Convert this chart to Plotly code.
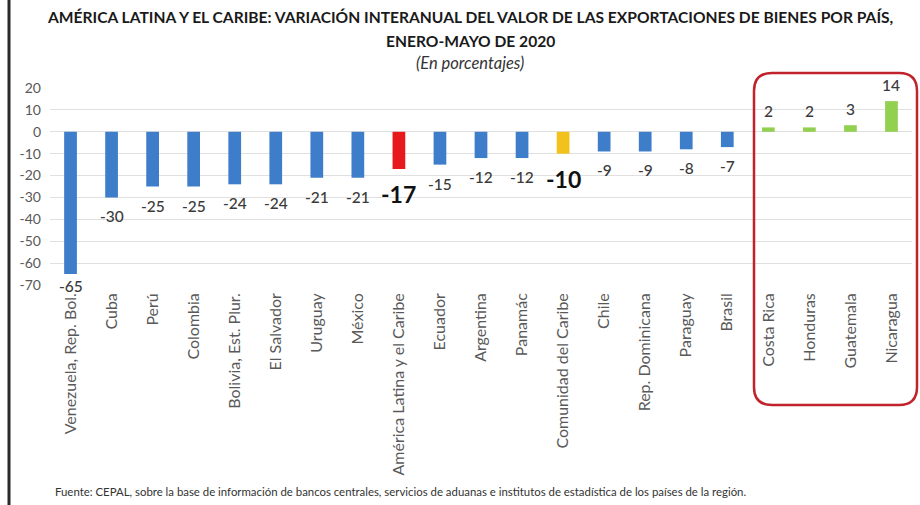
import plotly.graph_objects as go

categories = ["Venezuela, Rep. Bol.", "Cuba", "Perú", "Colombia", "Bolivia, Est. Plur.",
              "El Salvador", "Uruguay", "México", "América Latina y el Caribe", "Ecuador",
              "Argentina", "Panamác", "Comunidad del Caribe", "Chile", "Rep. Dominicana",
              "Paraguay", "Brasil", "Costa Rica", "Honduras", "Guatemala", "Nicaragua"]
values = [-65, -30, -25, -25, -24, -24, -21, -21, -17, -15, -12, -12, -10, -9, -9, -8, -7,
          2, 2, 3, 14]
groups = ["pais"] * 8 + ["region", "pais", "pais", "pais", "caribe"] + ["pais"] * 4 + ["positivo"] * 4
y_ticks = [20, 10, 0, -10, -20, -30, -40, -50, -60, -70]

COLORS = {"pais": "#3D7DCA", "region": "#E8191C", "caribe": "#F2C11B", "positivo": "#92D050"}
FONT = "Lato, 'Open Sans', sans-serif"

W, H = 920, 505
L, R, T, B = 50, 8, 88, 220
pw, ph = W - L - R, H - T - B


def px_x(x):
    return (x - L) / pw


def px_y(y):
    return (H - B - y) / ph


fig = go.Figure()
fig.add_trace(go.Bar(
    x=categories, y=values,
    marker=dict(color=[COLORS[g] for g in groups], line=dict(width=0)),
    width=0.31, hoverinfo="x+y",
))

annotations = []
for c, v, g in zip(categories, values, groups):
    big = g in ("region", "caribe")
    if v < 0:
        shift = -25 if big else (-12 if v <= -60 else -19)
    else:
        shift = 16
    annotations.append(dict(
        x=c, y=v, xref="x", yref="y", text=str(v), showarrow=False,
        yshift=shift, yanchor="middle",
        font=dict(family=FONT, size=23 if big else 15.5,
                  color="#111111" if big else "#3a3a3a",
                  weight="bold" if big else 500),
    ))

annotations += [
    dict(xref="paper", yref="paper", x=px_x(470), y=px_y(17),
         text="<b>AMÉRICA LATINA Y EL CARIBE: VARIACIÓN INTERANUAL DEL VALOR DE LAS EXPORTACIONES DE BIENES POR PAÍS,</b>",
         showarrow=False, xanchor="center", yanchor="middle",
         font=dict(family=FONT, size=15.6, color="#1a1a1a")),
    dict(xref="paper", yref="paper", x=px_x(470), y=px_y(41),
         text="<b>ENERO-MAYO DE 2020</b>", showarrow=False, xanchor="center", yanchor="middle",
         font=dict(family=FONT, size=15.6, color="#1a1a1a")),
    dict(xref="paper", yref="paper", x=px_x(470), y=px_y(63),
         text="<i>(En porcentajes)</i>", showarrow=False, xanchor="center", yanchor="middle",
         font=dict(family=FONT, size=16.5, color="#333333")),
    dict(xref="paper", yref="paper", x=px_x(53), y=px_y(491),
         text="Fuente: CEPAL, sobre la base de información de bancos centrales, servicios de aduanas e institutos de estadística de los países de la región.",
         showarrow=False, xanchor="left", yanchor="middle",
         font=dict(family=FONT, size=11.4, color="#333333")),
]

# rounded red box around positive group
x0, x1 = px_x(754), px_x(917)
y0, y1 = px_y(405), px_y(73)
rx, ry = 18 / pw, 18 / ph
path = (f"M {x0+rx},{y1} L {x1-rx},{y1} Q {x1},{y1} {x1},{y1-ry} "
        f"L {x1},{y0+ry} Q {x1},{y0} {x1-rx},{y0} L {x0+rx},{y0} "
        f"Q {x0},{y0} {x0},{y0+ry} L {x0},{y1-ry} Q {x0},{y1} {x0+rx},{y1} Z")

shapes = [
    dict(type="path", xref="paper", yref="paper", path=path,
         line=dict(color="#C0232B", width=2.5), fillcolor="rgba(0,0,0,0)"),
    dict(type="line", xref="paper", yref="paper", x0=px_x(9), x1=px_x(9),
         y0=px_y(H + 5), y1=px_y(-5), line=dict(color="#2a2a2a", width=3)),
]

fig.update_layout(
    width=W, height=H,
    margin=dict(l=L, r=R, t=T, b=B, autoexpand=False),
    paper_bgcolor="white", plot_bgcolor="white",
    showlegend=False,
    font=dict(family=FONT, color="#595959"),
    annotations=annotations, shapes=shapes,
    bargap=0.5,
)
fig.update_xaxes(
    tickangle=-90, tickfont=dict(family=FONT, size=16, color="#595959"),
    showline=False, showgrid=False, ticks="", ticklabelstandoff=4,
)
fig.update_yaxes(
    range=[-70, 20], tickvals=y_ticks, ticktext=[str(t) for t in y_ticks],
    tickfont=dict(family=FONT, size=14, color="#595959"),
    showgrid=True, gridcolor="#E0E0E0", gridwidth=1,
    zeroline=True, zerolinecolor="#E0E0E0", zerolinewidth=1,
    showline=False, ticks="", ticklabelstandoff=8,
)

fig.write_html("out.html", config={"displayModeBar": False},
               post_script="document.body.style.margin='0px';document.body.style.overflow='hidden';")
